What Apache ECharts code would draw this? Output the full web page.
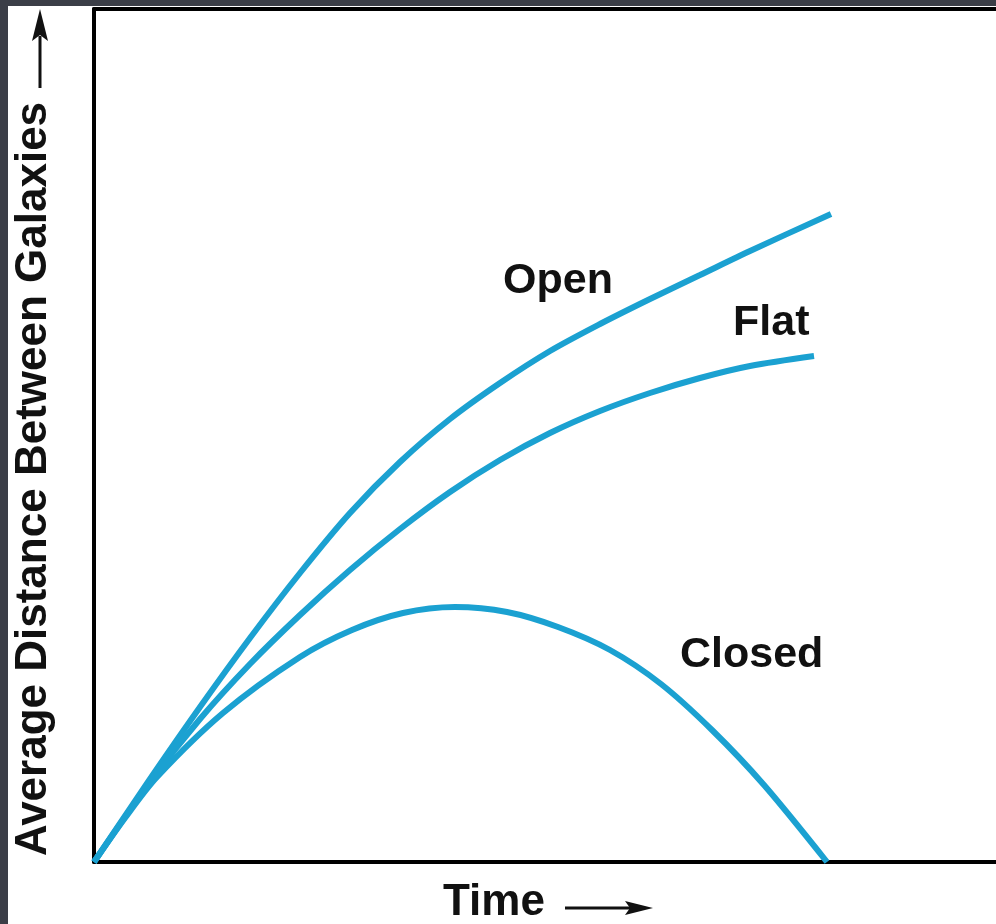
<!DOCTYPE html>
<html>
<head>
<meta charset="utf-8">
<script src="https://cdn.jsdelivr.net/npm/echarts@6/dist/echarts.min.js"></script>
<style>
    html, body { margin: 0; padding: 0; background: #fff; }
    #chart { width: 996px; height: 924px; }
</style>
</head>
<body>
<div id="chart"></div>
<script>
// time and distance (arbitrary units)
var openTime = [0, 5.6, 10.6, 15.6, 20.6, 25.6, 30.6, 35.6, 40.6, 45.6, 50.6, 55.6, 60.6, 65.6, 73.7];
var openDist = [0, 8.3, 15.5, 22.4, 28.9, 34.9, 40, 44.3, 47.9, 51.1, 53.8, 56.3, 58.7, 61.1, 64.8];

var flatTime = [0, 5.6, 10.6, 15.6, 20.6, 25.6, 30.6, 35.6, 40.6, 45.6, 50.6, 55.6, 60.6, 65.6, 72];
var flatDist = [0, 8, 14.3, 19.8, 24.7, 29.2, 33.3, 37, 40.2, 42.9, 45.1, 46.9, 48.4, 49.6, 50.6];

var closedTime = [0, 3.1, 6.3, 12.9, 20.6, 25.8, 30.9, 36.1, 41.3, 46.4, 51.6, 56.7, 61.8, 67, 73.3];
var closedDist = [0, 4.4, 8.5, 14.9, 20.5, 23.2, 24.9, 25.5, 25, 23.5, 21.2, 17.8, 13.2, 7.7, 0];

var curveNames = ['Open', 'Flat', 'Closed'];

function pairs(xs, ys) {
    return xs.map(function (x, i) {
        return [x, ys[i]];
    });
}

function makeSeries(name, xs, ys) {
    return {
        name: name,
        type: 'line',
        smooth: 0.3,
        showSymbol: false,
        clip: false,
        lineStyle: { color: '#1ba1d1', width: 6 },
        data: pairs(xs, ys)
    };
}

function hiddenAxis(extra) {
    var axis = {
        type: 'value',
        axisLine: { show: true, onZero: false, lineStyle: { color: '#000', width: 4 } },
        axisTick: { show: false },
        axisLabel: { show: false },
        splitLine: { show: false }
    };
    return Object.assign(axis, extra);
}

function makeOption() {
    var font = '"Liberation Sans", Arial, sans-serif';
    var labelStyle = { fontSize: 43, fontWeight: 'bold', fontFamily: font, fill: '#111' };
    var option = {
        backgroundColor: '#fff',
        animation: false,
        grid: { left: 94, top: 9, right: 0, bottom: 62 },
        xAxis: [
            hiddenAxis({ min: 0, max: 90.2, position: 'bottom' }),
            hiddenAxis({ min: 0, max: 90.2, position: 'top' })
        ],
        yAxis: hiddenAxis({ min: 0, max: 85.3, position: 'left' }),
        series: [
            makeSeries(curveNames[0], openTime, openDist),
            makeSeries(curveNames[1], flatTime, flatDist),
            makeSeries(curveNames[2], closedTime, closedDist)
        ],
        graphic: [
            // dark frame strips
            { type: 'rect', left: 0, top: 0, shape: { width: 8, height: 924 }, style: { fill: '#3b3e47' }, z: 100 },
            { type: 'rect', left: 0, top: 0, shape: { width: 996, height: 6 }, style: { fill: '#3b3e47' }, z: 100 },
            // curve labels
            { type: 'text', x: 503, y: 281, style: Object.assign({ text: curveNames[0], verticalAlign: 'middle' }, labelStyle) },
            { type: 'text', x: 733, y: 323, style: Object.assign({ text: curveNames[1], verticalAlign: 'middle' }, labelStyle) },
            { type: 'text', x: 680, y: 655, style: Object.assign({ text: curveNames[2], verticalAlign: 'middle' }, labelStyle) },
            // axis titles
            {
                type: 'text', x: 34, y: 856, rotation: Math.PI / 2,
                style: Object.assign({ text: 'Average Distance Between Galaxies', align: 'left', verticalAlign: 'middle' }, labelStyle, { fontSize: 44 })
            },
            { type: 'text', x: 443, y: 903, style: Object.assign({ text: 'Time', verticalAlign: 'middle' }, labelStyle, { fontSize: 44 }) },
            // arrows
            { type: 'line', shape: { x1: 40, y1: 88, x2: 40, y2: 36 }, style: { stroke: '#111', lineWidth: 3 } },
            { type: 'polygon', shape: { points: [[40, 9], [32, 41], [40, 35], [48, 41]] }, style: { fill: '#111' } },
            { type: 'line', shape: { x1: 565, y1: 908, x2: 632, y2: 908 }, style: { stroke: '#111', lineWidth: 3 } },
            { type: 'polygon', shape: { points: [[653, 908], [625, 901], [630, 908], [625, 915]] }, style: { fill: '#111' } }
        ]
    };
    return option;
}

var myChart = echarts.init(document.getElementById('chart'));
myChart.setOption(makeOption());
</script>
</body>
</html>
